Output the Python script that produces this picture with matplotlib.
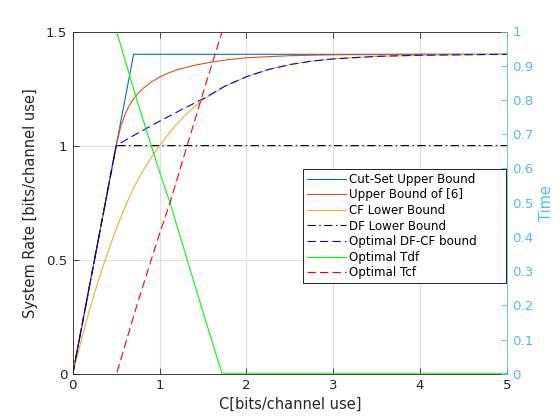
import numpy as np
import matplotlib
matplotlib.use("Agg")
import matplotlib.pyplot as plt

# -------------------- data --------------------
c_cutset = [0, 0.7, 5]
r_cutset = [0, 1.4, 1.4]

c_ub6 = [0, 0.5, 0.55, 0.6, 0.65, 0.7, 0.75, 0.8, 0.9, 1.0, 1.1, 1.2,
         1.4, 1.6, 1.8, 2.0, 2.5, 3.0, 4.0, 5.0]
r_ub6 = [0, 1.0, 1.08, 1.135, 1.175, 1.205, 1.228, 1.248, 1.278, 1.300,
         1.318, 1.332, 1.352, 1.366, 1.377, 1.385, 1.394, 1.398, 1.4, 1.4]

c_cf = [0, 0.1, 0.2, 0.3, 0.4, 0.5, 0.6, 0.7, 0.8, 0.9, 1.0, 1.1, 1.2,
        1.3, 1.4, 1.5, 1.75, 2.0, 2.25, 2.5, 2.75, 3.0, 3.5, 4.0, 4.5, 5.0]
r_cf = [0, 0.15, 0.29, 0.415, 0.53, 0.635, 0.73, 0.815, 0.885, 0.945,
        1.0, 1.05, 1.095, 1.135, 1.17, 1.2, 1.26, 1.302, 1.333, 1.355,
        1.37, 1.38, 1.391, 1.396, 1.398, 1.4]

c_df = [0, 0.5, 5]
r_df = [0, 1.0, 1.0]

c_dfcf = [0, 0.5, 0.75, 1.0, 1.25, 1.5, 1.75, 2.0, 2.25, 2.5, 2.75, 3.0,
          3.5, 4.0, 4.5, 5.0]
r_dfcf = [0, 1.0, 1.055, 1.107, 1.157, 1.205, 1.26, 1.302, 1.333, 1.355,
          1.37, 1.38, 1.391, 1.396, 1.398, 1.4]

c_tdf = [0.51, 0.75, 1.0, 1.12, 1.25, 1.5, 1.72, 5.0]
t_df = [0.995, 0.79, 0.59, 0.5, 0.39, 0.18, 0.0, 0.0]

c_tcf = [0.51, 0.75, 1.0, 1.12, 1.25, 1.5, 1.72, 5.0]
t_cf = [0.005, 0.21, 0.41, 0.5, 0.61, 0.82, 1.0, 1.0]

x_ticks = [0, 1, 2, 3, 4, 5]
y_ticks = [0, 0.5, 1, 1.5]
y_ticklabels = ['0', '0.5', '1', '1.5']
t_ticks = [0, 0.1, 0.2, 0.3, 0.4, 0.5, 0.6, 0.7, 0.8, 0.9, 1]
t_ticklabels = ['0', '0.1', '0.2', '0.3', '0.4', '0.5', '0.6', '0.7',
                '0.8', '0.9', '1']

# -------------------- style --------------------
plt.rcParams['font.family'] = ['DejaVu Sans']
plt.rcParams['lines.scale_dashes'] = False
axis_gray = '#262626'
right_col = '#4DBEEE'
lw = 0.8

fig = plt.figure(figsize=(5.6, 4.2), dpi=100)
ax = fig.add_axes([0.13, 0.11, 0.775, 0.815])
ax2 = ax.twinx()

h1, = ax.plot(c_cutset, r_cutset, color='#0072BD', lw=lw,
              label='Cut-Set Upper Bound')
h2, = ax.plot(c_ub6, r_ub6, color='#D95319', lw=lw,
              label='Upper Bound of [6]')
h3, = ax.plot(c_cf, r_cf, color='#EDB120', lw=lw, label='CF Lower Bound')
h4, = ax.plot(c_df, r_df, color='black', lw=lw, dashes=(6, 2.5, 1, 2.5),
              label='DF Lower Bound')
h5, = ax.plot(c_dfcf, r_dfcf, color='#0000FF', lw=lw, dashes=(6, 3),
              label='Optimal DF-CF bound')
h6, = ax2.plot(c_tdf, t_df, color='#00FF00', lw=lw, label='Optimal Tdf')
h7, = ax2.plot(c_tcf, t_cf, color='#FF0000', lw=lw, dashes=(6, 3),
               label='Optimal Tcf')

ax.set_xlim(0, 5)
ax.set_ylim(0, 1.5)
ax2.set_ylim(0, 1)
ax.set_xticks(x_ticks)
ax.set_yticks(y_ticks)
ax.set_yticklabels(y_ticklabels)
ax2.set_yticks(t_ticks)
ax2.set_yticklabels(t_ticklabels)

ax.grid(True, color='#dfdfdf', lw=0.8)
ax.set_axisbelow(True)

ax.tick_params(direction='in', length=4, width=0.6, colors=axis_gray,
               labelsize=9.6, top=True, right=False, pad=4)
ax2.tick_params(direction='in', length=4, width=0.6, colors=right_col,
                labelsize=9.6, pad=4)
for s in ['left', 'bottom', 'top']:
    ax.spines[s].set_color(axis_gray)
    ax.spines[s].set_linewidth(0.6)
ax.spines['right'].set_visible(False)
for s in ['left', 'bottom', 'top']:
    ax2.spines[s].set_visible(False)
ax2.spines['right'].set_color(right_col)
ax2.spines['right'].set_linewidth(0.6)

ax.set_xlabel('C[bits/channel use]', fontsize=10.5, color=axis_gray,
              labelpad=3)
ax.set_ylabel('System Rate [bits/channel use]', fontsize=10.5,
              color=axis_gray, labelpad=6)
ax2.set_ylabel('Time', fontsize=10.5, color=right_col, labelpad=4)

# legend spans a fixed box, text packed to the left as in the original
leg = ax2.legend(handles=[h1, h2, h3, h4, h5, h6, h7], loc='upper left',
                 bbox_to_anchor=(0.531, 0.272, 0.4665, 0.326), mode='expand',
                 fontsize=8.6, fancybox=False, framealpha=1,
                 edgecolor='black', handlelength=3.3, handletextpad=0.25,
                 labelspacing=0.22, borderpad=0.3, borderaxespad=0)
leg.get_frame().set_linewidth(0.6)

fig.savefig('out.png', dpi=100)
